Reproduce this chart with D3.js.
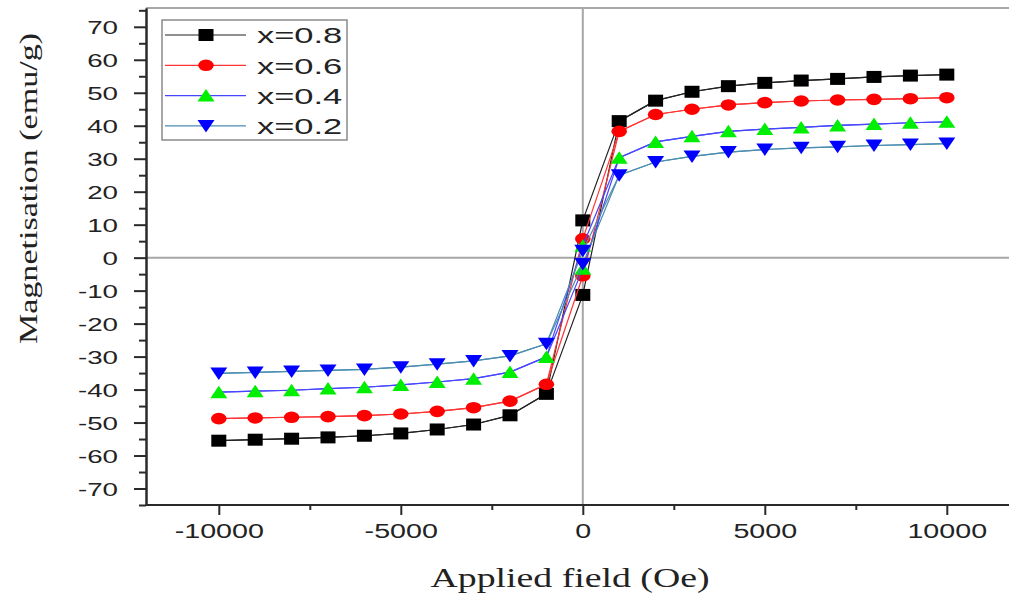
<!DOCTYPE html>
<html>
<head>
<meta charset="utf-8">
<script src="https://cdn.jsdelivr.net/npm/d3@7"></script>
<style>
  html, body { margin: 0; padding: 0; background: #fff; overflow: hidden; }
  svg { display: block; }
</style>
</head>
<body>
<svg id="chart" width="1009" height="601"></svg>
<script>
// Applied field steps (Oe) for the measured points away from zero field
const fieldOe = [-10000, -9000, -8000, -7000, -6000, -5000, -4000, -3000, -2000, -1000,
                 1000, 2000, 3000, 4000, 5000, 6000, 7000, 8000, 9000, 10000];

// Magnetisation (emu/g) for each composition at the fields above
const magX08 = [-55.5, -55.2, -54.9, -54.5, -54.0, -53.3, -52.1, -50.6, -47.8, -41.3,
                41.4, 47.6, 50.3, 52.0, 53.0, 53.7, 54.2, 54.8, 55.2, 55.5];
const magX06 = [-48.8, -48.6, -48.4, -48.2, -47.9, -47.4, -46.6, -45.5, -43.5, -38.4,
                38.3, 43.4, 45.0, 46.3, 47.0, 47.5, 47.8, 48.0, 48.2, 48.5];
const magX04 = [-40.8, -40.5, -40.2, -39.7, -39.3, -38.6, -37.7, -36.7, -34.7, -30.1,
                30.3, 35.1, 36.8, 38.3, 39.0, 39.5, 40.1, 40.5, 40.9, 41.2];
const magX02 = [-35.1, -34.8, -34.5, -34.2, -33.9, -33.2, -32.3, -31.3, -29.8, -26.1,
                25.0, 29.0, 30.7, 32.0, 32.8, 33.3, 33.6, 34.0, 34.3, 34.6];

// Remanent magnetisation at zero field on the descending and ascending branches
const remanenceDescending = [11.3, 5.7, 3.6, 2.1];
const remanenceAscending = [-11.3, -5.5, -3.4, -1.9];

const seriesNames = ["x=0.8", "x=0.6", "x=0.4", "x=0.2"];
const seriesValues = [magX08, magX06, magX04, magX02];

const yTicks = [-70, -60, -50, -40, -30, -20, -10, 0, 10, 20, 30, 40, 50, 60, 70];
const yMinorTicks = [-75, -65, -55, -45, -35, -25, -15, -5, 5, 15, 25, 35, 45, 55, 65, 75];
const xTicks = [-10000, -5000, 0, 5000, 10000];
const xMinorTicks = [-7500, -2500, 2500, 7500];

// Styling per series
const markerShapes = ["square", "circle", "up", "down"];
const markerFills = ["#000000", "#ff0000", "#00ee00", "#0000ff"];
const lineColors = ["#222222", "#ff3333", "#4646ff", "#4b8db0"];

const svg = d3.select("#chart");
const W = 1009;

const x = d3.scaleLinear().domain([-12000, 12000]).range([146, 1019.6]);
const y = d3.scaleLinear().domain([-75, 75.7]).range([505, 8]);

const TICK_SX = 1.5;

// frame: top border and zero-field / zero-moment guide lines
svg.append("line")
  .attr("x1", 146).attr("x2", W).attr("y1", 8).attr("y2", 8)
  .attr("stroke", "#8a8a8a").attr("stroke-width", 1.5);

svg.append("line")
  .attr("x1", x(0)).attr("x2", x(0)).attr("y1", y.range()[1]).attr("y2", y.range()[0])
  .attr("stroke", "#a6a6a6").attr("stroke-width", 2);
svg.append("line")
  .attr("x1", 146).attr("x2", W).attr("y1", y(0)).attr("y2", y(0))
  .attr("stroke", "#a6a6a6").attr("stroke-width", 2);

// hysteresis loops
const lineGen = d3.line().x(d => x(d[0])).y(d => y(d[1]));
const plot = svg.append("g");

function drawMarker(g, shape, cx, cy, fill) {
  if (shape === "square") {
    g.append("rect").attr("x", cx - 7.5).attr("y", cy - 6).attr("width", 15).attr("height", 12)
      .attr("fill", fill);
  } else if (shape === "circle") {
    g.append("ellipse").attr("cx", cx).attr("cy", cy).attr("rx", 7.8).attr("ry", 5.8)
      .attr("fill", fill);
  } else if (shape === "up") {
    g.append("polygon")
      .attr("points", [[cx, cy - 6.5], [cx + 8.5, cy + 6], [cx - 8.5, cy + 6]].map(p => p.join(",")).join(" "))
      .attr("fill", fill);
  } else {
    g.append("polygon")
      .attr("points", [[cx - 8.5, cy - 6], [cx + 8.5, cy - 6], [cx, cy + 6.5]].map(p => p.join(",")).join(" "))
      .attr("fill", fill);
  }
}

seriesValues.forEach((vals, i) => {
  const pts = fieldOe.map((h, k) => [h, vals[k]]);
  const neg = pts.filter(p => p[0] < 0);
  const pos = pts.filter(p => p[0] > 0);
  const ascending = [...neg, [0, remanenceAscending[i]], ...pos];
  const descending = [...pos.slice().reverse(), [0, remanenceDescending[i]], ...neg.slice().reverse()];

  const g = plot.append("g");
  [ascending, descending].forEach(branch => {
    g.append("path").attr("d", lineGen(branch))
      .attr("fill", "none").attr("stroke", lineColors[i]).attr("stroke-width", 1.2);
  });
  const markerPts = [...pts, [0, remanenceAscending[i]], [0, remanenceDescending[i]]];
  markerPts.forEach(p => drawMarker(g, markerShapes[i], x(p[0]), y(p[1]), markerFills[i]));
});

// axes
const axisColor = "#2a2a2a";
function styleAxis(g) {
  g.selectAll("path.domain").attr("stroke", axisColor).attr("stroke-width", 2);
  g.selectAll(".tick line").attr("stroke", axisColor).attr("stroke-width", 2);
}

const yAxisMinor = svg.append("g").attr("transform", "translate(146,0)")
  .call(d3.axisLeft(y).tickValues(yMinorTicks).tickSize(7).tickSizeOuter(0).tickFormat(""));
styleAxis(yAxisMinor);

const yAxis = svg.append("g").attr("transform", "translate(146,0)")
  .call(d3.axisLeft(y).tickValues(yTicks).tickSize(12).tickSizeOuter(0).tickFormat(d => String(d)));
styleAxis(yAxis);
yAxis.selectAll(".tick text")
  .attr("x", null).attr("dy", "0.36em")
  .attr("text-anchor", "end")
  .attr("transform", `translate(-28,0) scale(${TICK_SX},1)`)
  .attr("font-family", "'Liberation Sans', Arial, sans-serif")
  .attr("font-size", 18.5).attr("fill", "#222");
yAxis.attr("font-family", null).attr("font-size", null);

const xAxisMinor = svg.append("g").attr("transform", "translate(0,505)")
  .call(d3.axisBottom(x).tickValues(xMinorTicks).tickSize(5).tickSizeOuter(0).tickFormat(""));
styleAxis(xAxisMinor);
xAxisMinor.select("path.domain").attr("d", `M146,0H${W}`);

const xAxis = svg.append("g").attr("transform", "translate(0,505)")
  .call(d3.axisBottom(x).tickValues(xTicks).tickSize(10).tickSizeOuter(0).tickFormat(d => String(d)));
styleAxis(xAxis);
xAxis.select("path.domain").attr("d", `M146,0H${W}`);
xAxis.selectAll(".tick text")
  .attr("y", null).attr("dy", null)
  .attr("text-anchor", "middle")
  .attr("transform", `translate(0,33) scale(1.4,1)`)
  .attr("font-family", "'Liberation Sans', Arial, sans-serif")
  .attr("font-size", 20.5).attr("fill", "#222");
xAxis.attr("font-family", null).attr("font-size", null);

// axis titles
svg.append("text")
  .attr("transform", "translate(570,587) scale(1.35,1)")
  .attr("text-anchor", "middle")
  .attr("font-family", "'Liberation Serif', 'Times New Roman', serif")
  .attr("font-size", 28).attr("fill", "#222")
  .text("Applied field (Oe)");

svg.append("text")
  .attr("transform", "translate(37,188.5) rotate(-90) scale(1.39,1)")
  .attr("text-anchor", "middle")
  .attr("font-family", "'Liberation Serif', 'Times New Roman', serif")
  .attr("font-size", 24.5).attr("fill", "#222")
  .text("Magnetisation (emu/g)");

// legend
const legend = svg.append("g");
legend.append("rect")
  .attr("x", 162).attr("y", 20).attr("width", 185).attr("height", 120)
  .attr("fill", "#fff").attr("stroke", "#8a8a8a").attr("stroke-width", 1.5);
seriesNames.forEach((name, i) => {
  const cy = 35 + i * 30.3;
  legend.append("line").attr("x1", 165).attr("x2", 246).attr("y1", cy).attr("y2", cy)
    .attr("stroke", lineColors[i]).attr("stroke-width", 1.2);
  drawMarker(legend, markerShapes[i], 206, cy, markerFills[i]);
  legend.append("text")
    .attr("transform", `translate(257,${cy}) scale(1.5,1)`)
    .attr("dy", "0.36em")
    .attr("font-family", "'Liberation Sans', Arial, sans-serif")
    .attr("font-size", 23).attr("fill", "#222")
    .text(name);
});
</script>
</body>
</html>
